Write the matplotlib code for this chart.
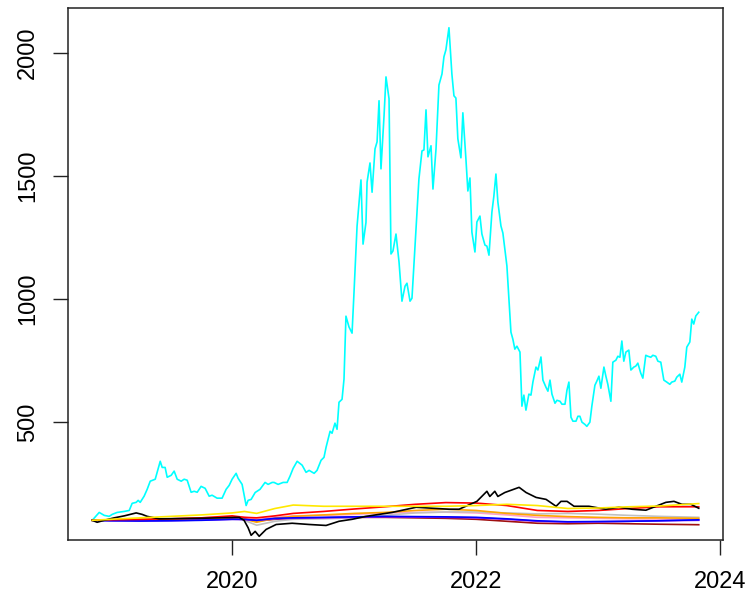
import matplotlib
matplotlib.use("Agg")
import matplotlib.pyplot as plt
import numpy as np

# ---- data (decimal years, index values) ----
cyan_t = [2018.853, 2018.910, 2018.951, 2018.992, 2019.016, 2019.057, 2019.115, 2019.156, 2019.180, 2019.213,
          2019.229, 2019.246, 2019.278, 2019.303, 2019.328, 2019.369, 2019.410, 2019.426, 2019.450, 2019.467,
          2019.500, 2019.524, 2019.549, 2019.582, 2019.606, 2019.631, 2019.663, 2019.688, 2019.713, 2019.745,
          2019.778, 2019.811, 2019.835, 2019.876, 2019.917, 2019.950, 2019.975, 2019.999, 2020.032, 2020.048,
          2020.081, 2020.114, 2020.130, 2020.155, 2020.188, 2020.228, 2020.269, 2020.294, 2020.327, 2020.343,
          2020.376, 2020.417, 2020.450, 2020.474, 2020.499, 2020.532, 2020.573, 2020.605, 2020.630, 2020.671,
          2020.695, 2020.728, 2020.752, 2020.769, 2020.802, 2020.818, 2020.842, 2020.859, 2020.875, 2020.900,
          2020.916, 2020.932, 2020.957, 2020.982, 2020.998, 2021.023, 2021.055, 2021.072, 2021.096, 2021.105,
          2021.129, 2021.146, 2021.170, 2021.187, 2021.203, 2021.219, 2021.244, 2021.260, 2021.285, 2021.301,
          2021.317, 2021.342, 2021.367, 2021.391, 2021.416, 2021.432, 2021.457, 2021.473, 2021.498, 2021.530,
          2021.555, 2021.571, 2021.588, 2021.604, 2021.629, 2021.645, 2021.670, 2021.694, 2021.719, 2021.735,
          2021.751, 2021.776, 2021.800, 2021.817, 2021.833, 2021.849, 2021.874, 2021.890, 2021.915, 2021.931,
          2021.948, 2021.964, 2021.989, 2022.005, 2022.030, 2022.046, 2022.071, 2022.087, 2022.104, 2022.128,
          2022.144, 2022.161, 2022.177, 2022.202, 2022.218, 2022.234, 2022.251, 2022.267, 2022.284, 2022.300,
          2022.316, 2022.333, 2022.358, 2022.374, 2022.390, 2022.407, 2022.431, 2022.448, 2022.464, 2022.489,
          2022.505, 2022.530, 2022.546, 2022.571, 2022.587, 2022.604, 2022.620, 2022.645, 2022.661, 2022.686,
          2022.702, 2022.727, 2022.743, 2022.759, 2022.776, 2022.792, 2022.817, 2022.833, 2022.849, 2022.866,
          2022.890, 2022.906, 2022.931, 2022.947, 2022.972, 2022.988, 2023.005, 2023.021, 2023.046, 2023.062,
          2023.078, 2023.103, 2023.119, 2023.144, 2023.160, 2023.177, 2023.193, 2023.209, 2023.226, 2023.250,
          2023.267, 2023.291, 2023.307, 2023.324, 2023.348, 2023.365, 2023.389, 2023.406, 2023.430, 2023.447,
          2023.471, 2023.488, 2023.512, 2023.537, 2023.561, 2023.586, 2023.602, 2023.627, 2023.643, 2023.668,
          2023.684, 2023.709, 2023.725, 2023.750, 2023.766, 2023.782, 2023.799, 2023.823]
cyan_v = [100, 132, 120, 116, 124, 132, 136, 140, 169, 173,
          181, 173, 198, 226, 259, 267, 340, 315, 315, 275,
          283, 300, 267, 259, 267, 263, 214, 218, 214, 238,
          230, 198, 202, 190, 190, 226, 242, 267, 291, 271,
          246, 160, 181, 185, 213, 226, 254, 246, 254, 254,
          246, 254, 254, 280, 311, 340, 324, 295, 303, 291,
          303, 344, 356, 397, 462, 454, 495, 470, 580, 592,
          674, 930, 886, 861, 1027, 1296, 1484, 1223, 1311, 1475,
          1553, 1434, 1610, 1639, 1806, 1529, 1744, 1903, 1814, 1183,
          1195, 1264, 1150, 991, 1052, 1064, 991, 1003, 1215, 1488,
          1602, 1606, 1769, 1578, 1623, 1447, 1610, 1870, 1915, 1985,
          2013, 2103, 1915, 1826, 1817, 1651, 1574, 1757, 1570, 1439,
          1492, 1272, 1191, 1313, 1337, 1264, 1219, 1215, 1178, 1353,
          1418, 1508, 1394, 1297, 1268, 1203, 1134, 1000, 865, 836,
          796, 808, 784, 564, 609, 548, 613, 609, 662, 723,
          711, 764, 670, 641, 625, 670, 613, 576, 588, 584,
          572, 572, 629, 662, 519, 503, 503, 523, 523, 499,
          490, 482, 499, 564, 649, 666, 686, 637, 723, 686,
          653, 584, 743, 751, 767, 763, 829, 747, 784, 792,
          711, 723, 727, 739, 698, 678, 771, 767, 763, 771,
          767, 747, 743, 670, 662, 653, 662, 666, 682, 694,
          662, 723, 804, 825, 918, 898, 931, 946]

black_t = [2018.853, 2018.893, 2018.951, 2019.033, 2019.115, 2019.213, 2019.262, 2019.303, 2019.401, 2019.729,
           2020.057, 2020.097, 2020.130, 2020.155, 2020.188, 2020.221, 2020.278, 2020.360, 2020.491, 2020.630,
           2020.769, 2020.875, 2020.982, 2021.096, 2021.203, 2021.310, 2021.507, 2021.777, 2021.859, 2022.005,
           2022.087, 2022.111, 2022.152, 2022.177, 2022.234, 2022.351, 2022.408, 2022.490, 2022.572, 2022.654,
           2022.694, 2022.744, 2022.801, 2022.923, 2023.062, 2023.169, 2023.276, 2023.390, 2023.472, 2023.554,
           2023.620, 2023.685, 2023.759, 2023.823]
black_v = [100, 92, 100, 110, 118, 130, 124, 116, 106, 108,
           112, 100, 70, 39, 55, 35, 63, 83, 88, 83,
           79, 96, 104, 116, 124, 132, 153, 145, 145, 177,
           218, 197, 218, 197, 213, 234, 213, 193, 185, 157,
           177, 177, 157, 157, 145, 153, 145, 141, 157, 173,
           177, 165, 165, 149]

grid_t = [2018.853, 2019.0, 2019.25, 2019.5, 2019.75, 2020.0, 2020.1, 2020.2, 2020.35, 2020.5, 2020.75, 2021.0,
          2021.25, 2021.5, 2021.75, 2022.0, 2022.25, 2022.5, 2022.75, 2023.0, 2023.25, 2023.5, 2023.823]
yellow_v = [100, 104, 110, 116, 122, 130, 136, 128, 148, 162, 157, 157, 157, 157, 157, 160, 165, 160, 148, 150, 155, 158, 168]
red_v = [100, 102, 104, 106, 110, 118, 112, 110, 118, 128, 136, 146, 155, 165, 172, 170, 160, 140, 136, 140, 148, 155, 155]
grey_v = [100, 100, 102, 104, 106, 110, 100, 80, 96, 104, 106, 110, 120, 130, 134, 134, 130, 126, 128, 125, 120, 116, 112]
orange_v = [100, 101, 103, 105, 108, 112, 105, 92, 108, 116, 122, 128, 132, 140, 145, 140, 128, 120, 115, 112, 110, 110, 108]
pink_v = [100, 101, 103, 106, 110, 114, 112, 104, 112, 118, 120, 124, 130, 132, 133, 130, 122, 112, 110, 108, 106, 105, 104]
blue_v = [100, 98, 97, 98, 100, 104, 104, 100, 108, 110, 112, 114, 116, 115, 114, 112, 106, 98, 94, 95, 96, 98, 102]
purple_v = [100, 99, 98, 99, 101, 104, 103, 100, 106, 108, 110, 112, 114, 113, 112, 110, 104, 96, 93, 94, 96, 98, 100]
darkred_v = [100, 100, 101, 102, 104, 108, 106, 98, 104, 108, 110, 112, 112, 110, 108, 104, 96, 88, 86, 88, 86, 84, 82]

x_ticks = [2020, 2022, 2024]
x_labels = ["2020", "2022", "2024"]
y_ticks = [500, 1000, 1500, 2000]

# ---- figure ----
fig = plt.figure(figsize=(7.49, 5.99), dpi=100)
ax = fig.add_axes([68/749, 1-540/599, (723-68)/749, (540-8)/599])

lw = 1.2
ax.plot(cyan_t, cyan_v, color="#00FFFF", lw=lw)
ax.plot(grid_t, darkred_v, color="#A01010", lw=lw)
ax.plot(grid_t, pink_v, color="#FF9EC8", lw=lw)
ax.plot(grid_t, grey_v, color="#C0C0C0", lw=lw)
ax.plot(grid_t, orange_v, color="#FFA500", lw=lw)
ax.plot(grid_t, purple_v, color="#A020F0", lw=lw)
ax.plot(grid_t, blue_v, color="#0000FF", lw=lw)
ax.plot(grid_t, red_v, color="#FF0000", lw=lw)
ax.plot(black_t, black_v, color="black", lw=lw)
ax.plot(grid_t, yellow_v, color="#FFE800", lw=lw)

# R-style limits (4% extension)
tmin, tmax = min(cyan_t), max(cyan_t)
vmin, vmax = min(cyan_v), max(cyan_v)
ax.set_xlim(tmin - 0.04*(tmax-tmin), tmax + 0.04*(tmax-tmin))
ax.set_ylim(vmin - 0.04*(vmax-vmin), vmax + 0.04*(vmax-vmin))

font = ["Liberation Sans Narrow", "Liberation Sans", "DejaVu Sans"]
ax.set_xticks(x_ticks)
ax.set_xticklabels(x_labels, family=font, fontsize=17)
ax.set_yticks(y_ticks)
ax.set_yticklabels([str(v) for v in y_ticks], family=font, fontsize=17, rotation=90, va="center")
ax.tick_params(axis="x", length=11, width=1, pad=11, color="#222222")
ax.tick_params(axis="y", length=11, width=1, pad=10, color="#222222")
for s in ax.spines.values():
    s.set_linewidth(1.1)
    s.set_color("#222222")

fig.savefig("out.png", dpi=100)
